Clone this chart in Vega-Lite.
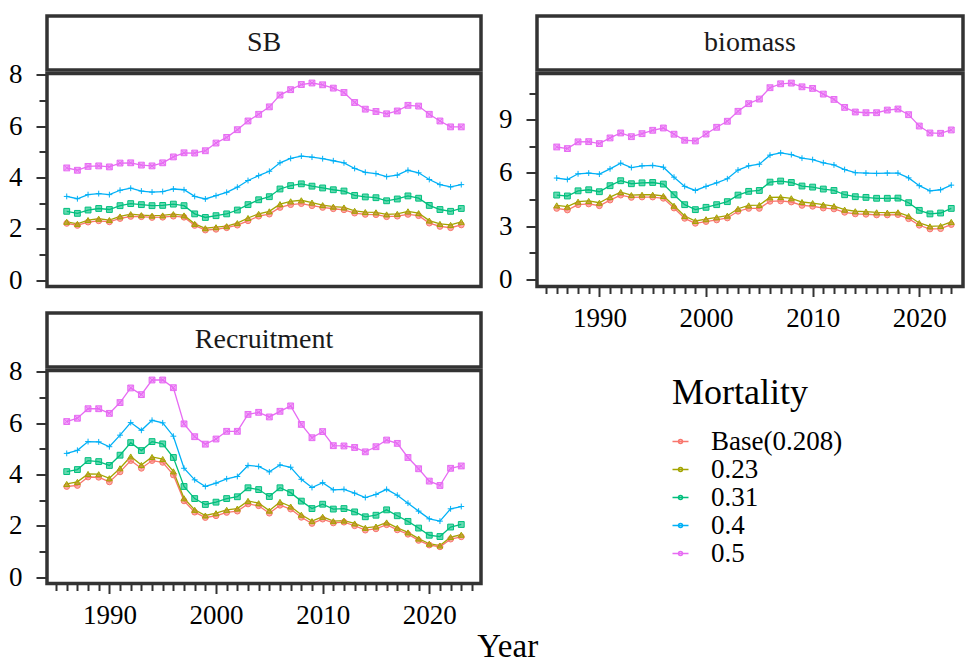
{
"$schema":"https://vega.github.io/schema/vega-lite/v6.json",
"background":"white",
"padding":{"left":6,"top":14,"right":0,"bottom":0},
"title":{"text":"Year","orient":"bottom","anchor":"middle","font":"Liberation Serif","fontSize":33,"fontWeight":"normal","color":"#000000","offset":1,"dx":22},
"datasets":{
"SB":[
{"Year":1986,"Mortality":"Base(0.208)","Value":2.21},{"Year":1987,"Mortality":"Base(0.208)","Value":2.13},{"Year":1988,"Mortality":"Base(0.208)","Value":2.26},{"Year":1989,"Mortality":"Base(0.208)","Value":2.31},{"Year":1990,"Mortality":"Base(0.208)","Value":2.27},{"Year":1991,"Mortality":"Base(0.208)","Value":2.40},{"Year":1992,"Mortality":"Base(0.208)","Value":2.48},{"Year":1993,"Mortality":"Base(0.208)","Value":2.47},{"Year":1994,"Mortality":"Base(0.208)","Value":2.44},{"Year":1995,"Mortality":"Base(0.208)","Value":2.45},{"Year":1996,"Mortality":"Base(0.208)","Value":2.49},{"Year":1997,"Mortality":"Base(0.208)","Value":2.45},{"Year":1998,"Mortality":"Base(0.208)","Value":2.13},{"Year":1999,"Mortality":"Base(0.208)","Value":1.95},{"Year":2000,"Mortality":"Base(0.208)","Value":1.98},{"Year":2001,"Mortality":"Base(0.208)","Value":2.04},{"Year":2002,"Mortality":"Base(0.208)","Value":2.14},{"Year":2003,"Mortality":"Base(0.208)","Value":2.31},{"Year":2004,"Mortality":"Base(0.208)","Value":2.49},{"Year":2005,"Mortality":"Base(0.208)","Value":2.57},{"Year":2006,"Mortality":"Base(0.208)","Value":2.83},{"Year":2007,"Mortality":"Base(0.208)","Value":2.94},{"Year":2008,"Mortality":"Base(0.208)","Value":2.98},{"Year":2009,"Mortality":"Base(0.208)","Value":2.90},{"Year":2010,"Mortality":"Base(0.208)","Value":2.83},{"Year":2011,"Mortality":"Base(0.208)","Value":2.78},{"Year":2012,"Mortality":"Base(0.208)","Value":2.74},{"Year":2013,"Mortality":"Base(0.208)","Value":2.61},{"Year":2014,"Mortality":"Base(0.208)","Value":2.56},{"Year":2015,"Mortality":"Base(0.208)","Value":2.55},{"Year":2016,"Mortality":"Base(0.208)","Value":2.47},{"Year":2017,"Mortality":"Base(0.208)","Value":2.49},{"Year":2018,"Mortality":"Base(0.208)","Value":2.56},{"Year":2019,"Mortality":"Base(0.208)","Value":2.51},{"Year":2020,"Mortality":"Base(0.208)","Value":2.22},{"Year":2021,"Mortality":"Base(0.208)","Value":2.09},{"Year":2022,"Mortality":"Base(0.208)","Value":2.04},{"Year":2023,"Mortality":"Base(0.208)","Value":2.15},
{"Year":1986,"Mortality":"0.23","Value":2.27},{"Year":1987,"Mortality":"0.23","Value":2.19},{"Year":1988,"Mortality":"0.23","Value":2.34},{"Year":1989,"Mortality":"0.23","Value":2.39},{"Year":1990,"Mortality":"0.23","Value":2.34},{"Year":1991,"Mortality":"0.23","Value":2.48},{"Year":1992,"Mortality":"0.23","Value":2.57},{"Year":1993,"Mortality":"0.23","Value":2.53},{"Year":1994,"Mortality":"0.23","Value":2.51},{"Year":1995,"Mortality":"0.23","Value":2.52},{"Year":1996,"Mortality":"0.23","Value":2.57},{"Year":1997,"Mortality":"0.23","Value":2.52},{"Year":1998,"Mortality":"0.23","Value":2.19},{"Year":1999,"Mortality":"0.23","Value":2.02},{"Year":2000,"Mortality":"0.23","Value":2.06},{"Year":2001,"Mortality":"0.23","Value":2.10},{"Year":2002,"Mortality":"0.23","Value":2.22},{"Year":2003,"Mortality":"0.23","Value":2.42},{"Year":2004,"Mortality":"0.23","Value":2.58},{"Year":2005,"Mortality":"0.23","Value":2.68},{"Year":2006,"Mortality":"0.23","Value":2.96},{"Year":2007,"Mortality":"0.23","Value":3.07},{"Year":2008,"Mortality":"0.23","Value":3.11},{"Year":2009,"Mortality":"0.23","Value":3.02},{"Year":2010,"Mortality":"0.23","Value":2.92},{"Year":2011,"Mortality":"0.23","Value":2.86},{"Year":2012,"Mortality":"0.23","Value":2.83},{"Year":2013,"Mortality":"0.23","Value":2.70},{"Year":2014,"Mortality":"0.23","Value":2.65},{"Year":2015,"Mortality":"0.23","Value":2.64},{"Year":2016,"Mortality":"0.23","Value":2.56},{"Year":2017,"Mortality":"0.23","Value":2.58},{"Year":2018,"Mortality":"0.23","Value":2.68},{"Year":2019,"Mortality":"0.23","Value":2.61},{"Year":2020,"Mortality":"0.23","Value":2.32},{"Year":2021,"Mortality":"0.23","Value":2.19},{"Year":2022,"Mortality":"0.23","Value":2.15},{"Year":2023,"Mortality":"0.23","Value":2.27},
{"Year":1986,"Mortality":"0.31","Value":2.68},{"Year":1987,"Mortality":"0.31","Value":2.60},{"Year":1988,"Mortality":"0.31","Value":2.73},{"Year":1989,"Mortality":"0.31","Value":2.79},{"Year":1990,"Mortality":"0.31","Value":2.75},{"Year":1991,"Mortality":"0.31","Value":2.90},{"Year":1992,"Mortality":"0.31","Value":2.98},{"Year":1993,"Mortality":"0.31","Value":2.94},{"Year":1994,"Mortality":"0.31","Value":2.90},{"Year":1995,"Mortality":"0.31","Value":2.91},{"Year":1996,"Mortality":"0.31","Value":2.96},{"Year":1997,"Mortality":"0.31","Value":2.90},{"Year":1998,"Mortality":"0.31","Value":2.58},{"Year":1999,"Mortality":"0.31","Value":2.44},{"Year":2000,"Mortality":"0.31","Value":2.51},{"Year":2001,"Mortality":"0.31","Value":2.58},{"Year":2002,"Mortality":"0.31","Value":2.73},{"Year":2003,"Mortality":"0.31","Value":2.94},{"Year":2004,"Mortality":"0.31","Value":3.13},{"Year":2005,"Mortality":"0.31","Value":3.25},{"Year":2006,"Mortality":"0.31","Value":3.55},{"Year":2007,"Mortality":"0.31","Value":3.68},{"Year":2008,"Mortality":"0.31","Value":3.75},{"Year":2009,"Mortality":"0.31","Value":3.66},{"Year":2010,"Mortality":"0.31","Value":3.59},{"Year":2011,"Mortality":"0.31","Value":3.52},{"Year":2012,"Mortality":"0.31","Value":3.47},{"Year":2013,"Mortality":"0.31","Value":3.30},{"Year":2014,"Mortality":"0.31","Value":3.24},{"Year":2015,"Mortality":"0.31","Value":3.21},{"Year":2016,"Mortality":"0.31","Value":3.09},{"Year":2017,"Mortality":"0.31","Value":3.16},{"Year":2018,"Mortality":"0.31","Value":3.28},{"Year":2019,"Mortality":"0.31","Value":3.19},{"Year":2020,"Mortality":"0.31","Value":2.91},{"Year":2021,"Mortality":"0.31","Value":2.75},{"Year":2022,"Mortality":"0.31","Value":2.68},{"Year":2023,"Mortality":"0.31","Value":2.79},
{"Year":1986,"Mortality":"0.4","Value":3.26},{"Year":1987,"Mortality":"0.4","Value":3.17},{"Year":1988,"Mortality":"0.4","Value":3.33},{"Year":1989,"Mortality":"0.4","Value":3.37},{"Year":1990,"Mortality":"0.4","Value":3.33},{"Year":1991,"Mortality":"0.4","Value":3.50},{"Year":1992,"Mortality":"0.4","Value":3.58},{"Year":1993,"Mortality":"0.4","Value":3.47},{"Year":1994,"Mortality":"0.4","Value":3.43},{"Year":1995,"Mortality":"0.4","Value":3.45},{"Year":1996,"Mortality":"0.4","Value":3.55},{"Year":1997,"Mortality":"0.4","Value":3.52},{"Year":1998,"Mortality":"0.4","Value":3.26},{"Year":1999,"Mortality":"0.4","Value":3.16},{"Year":2000,"Mortality":"0.4","Value":3.29},{"Year":2001,"Mortality":"0.4","Value":3.42},{"Year":2002,"Mortality":"0.4","Value":3.62},{"Year":2003,"Mortality":"0.4","Value":3.88},{"Year":2004,"Mortality":"0.4","Value":4.07},{"Year":2005,"Mortality":"0.4","Value":4.24},{"Year":2006,"Mortality":"0.4","Value":4.57},{"Year":2007,"Mortality":"0.4","Value":4.74},{"Year":2008,"Mortality":"0.4","Value":4.83},{"Year":2009,"Mortality":"0.4","Value":4.79},{"Year":2010,"Mortality":"0.4","Value":4.73},{"Year":2011,"Mortality":"0.4","Value":4.65},{"Year":2012,"Mortality":"0.4","Value":4.57},{"Year":2013,"Mortality":"0.4","Value":4.35},{"Year":2014,"Mortality":"0.4","Value":4.20},{"Year":2015,"Mortality":"0.4","Value":4.15},{"Year":2016,"Mortality":"0.4","Value":4.03},{"Year":2017,"Mortality":"0.4","Value":4.09},{"Year":2018,"Mortality":"0.4","Value":4.28},{"Year":2019,"Mortality":"0.4","Value":4.18},{"Year":2020,"Mortality":"0.4","Value":3.92},{"Year":2021,"Mortality":"0.4","Value":3.72},{"Year":2022,"Mortality":"0.4","Value":3.63},{"Year":2023,"Mortality":"0.4","Value":3.72},
{"Year":1986,"Mortality":"0.5","Value":4.37},{"Year":1987,"Mortality":"0.5","Value":4.28},{"Year":1988,"Mortality":"0.5","Value":4.43},{"Year":1989,"Mortality":"0.5","Value":4.45},{"Year":1990,"Mortality":"0.5","Value":4.41},{"Year":1991,"Mortality":"0.5","Value":4.56},{"Year":1992,"Mortality":"0.5","Value":4.57},{"Year":1993,"Mortality":"0.5","Value":4.48},{"Year":1994,"Mortality":"0.5","Value":4.45},{"Year":1995,"Mortality":"0.5","Value":4.57},{"Year":1996,"Mortality":"0.5","Value":4.80},{"Year":1997,"Mortality":"0.5","Value":4.96},{"Year":1998,"Mortality":"0.5","Value":4.95},{"Year":1999,"Mortality":"0.5","Value":5.04},{"Year":2000,"Mortality":"0.5","Value":5.34},{"Year":2001,"Mortality":"0.5","Value":5.56},{"Year":2002,"Mortality":"0.5","Value":5.86},{"Year":2003,"Mortality":"0.5","Value":6.20},{"Year":2004,"Mortality":"0.5","Value":6.46},{"Year":2005,"Mortality":"0.5","Value":6.75},{"Year":2006,"Mortality":"0.5","Value":7.21},{"Year":2007,"Mortality":"0.5","Value":7.42},{"Year":2008,"Mortality":"0.5","Value":7.62},{"Year":2009,"Mortality":"0.5","Value":7.68},{"Year":2010,"Mortality":"0.5","Value":7.61},{"Year":2011,"Mortality":"0.5","Value":7.48},{"Year":2012,"Mortality":"0.5","Value":7.31},{"Year":2013,"Mortality":"0.5","Value":6.92},{"Year":2014,"Mortality":"0.5","Value":6.66},{"Year":2015,"Mortality":"0.5","Value":6.57},{"Year":2016,"Mortality":"0.5","Value":6.48},{"Year":2017,"Mortality":"0.5","Value":6.59},{"Year":2018,"Mortality":"0.5","Value":6.81},{"Year":2019,"Mortality":"0.5","Value":6.78},{"Year":2020,"Mortality":"0.5","Value":6.46},{"Year":2021,"Mortality":"0.5","Value":6.20},{"Year":2022,"Mortality":"0.5","Value":5.97},{"Year":2023,"Mortality":"0.5","Value":5.97}
],
"biomass":[
{"Year":1986,"Mortality":"Base(0.208)","Value":4.00},{"Year":1987,"Mortality":"Base(0.208)","Value":3.91},{"Year":1988,"Mortality":"Base(0.208)","Value":4.21},{"Year":1989,"Mortality":"Base(0.208)","Value":4.25},{"Year":1990,"Mortality":"Base(0.208)","Value":4.15},{"Year":1991,"Mortality":"Base(0.208)","Value":4.47},{"Year":1992,"Mortality":"Base(0.208)","Value":4.75},{"Year":1993,"Mortality":"Base(0.208)","Value":4.62},{"Year":1994,"Mortality":"Base(0.208)","Value":4.64},{"Year":1995,"Mortality":"Base(0.208)","Value":4.64},{"Year":1996,"Mortality":"Base(0.208)","Value":4.57},{"Year":1997,"Mortality":"Base(0.208)","Value":4.02},{"Year":1998,"Mortality":"Base(0.208)","Value":3.44},{"Year":1999,"Mortality":"Base(0.208)","Value":3.16},{"Year":2000,"Mortality":"Base(0.208)","Value":3.26},{"Year":2001,"Mortality":"Base(0.208)","Value":3.35},{"Year":2002,"Mortality":"Base(0.208)","Value":3.46},{"Year":2003,"Mortality":"Base(0.208)","Value":3.84},{"Year":2004,"Mortality":"Base(0.208)","Value":4.00},{"Year":2005,"Mortality":"Base(0.208)","Value":4.00},{"Year":2006,"Mortality":"Base(0.208)","Value":4.40},{"Year":2007,"Mortality":"Base(0.208)","Value":4.42},{"Year":2008,"Mortality":"Base(0.208)","Value":4.36},{"Year":2009,"Mortality":"Base(0.208)","Value":4.17},{"Year":2010,"Mortality":"Base(0.208)","Value":4.12},{"Year":2011,"Mortality":"Base(0.208)","Value":4.02},{"Year":2012,"Mortality":"Base(0.208)","Value":3.97},{"Year":2013,"Mortality":"Base(0.208)","Value":3.78},{"Year":2014,"Mortality":"Base(0.208)","Value":3.69},{"Year":2015,"Mortality":"Base(0.208)","Value":3.67},{"Year":2016,"Mortality":"Base(0.208)","Value":3.63},{"Year":2017,"Mortality":"Base(0.208)","Value":3.63},{"Year":2018,"Mortality":"Base(0.208)","Value":3.65},{"Year":2019,"Mortality":"Base(0.208)","Value":3.42},{"Year":2020,"Mortality":"Base(0.208)","Value":3.05},{"Year":2021,"Mortality":"Base(0.208)","Value":2.84},{"Year":2022,"Mortality":"Base(0.208)","Value":2.86},{"Year":2023,"Mortality":"Base(0.208)","Value":3.09},
{"Year":1986,"Mortality":"0.23","Value":4.17},{"Year":1987,"Mortality":"0.23","Value":4.10},{"Year":1988,"Mortality":"0.23","Value":4.38},{"Year":1989,"Mortality":"0.23","Value":4.42},{"Year":1990,"Mortality":"0.23","Value":4.32},{"Year":1991,"Mortality":"0.23","Value":4.64},{"Year":1992,"Mortality":"0.23","Value":4.92},{"Year":1993,"Mortality":"0.23","Value":4.75},{"Year":1994,"Mortality":"0.23","Value":4.77},{"Year":1995,"Mortality":"0.23","Value":4.77},{"Year":1996,"Mortality":"0.23","Value":4.70},{"Year":1997,"Mortality":"0.23","Value":4.15},{"Year":1998,"Mortality":"0.23","Value":3.57},{"Year":1999,"Mortality":"0.23","Value":3.29},{"Year":2000,"Mortality":"0.23","Value":3.39},{"Year":2001,"Mortality":"0.23","Value":3.50},{"Year":2002,"Mortality":"0.23","Value":3.59},{"Year":2003,"Mortality":"0.23","Value":3.98},{"Year":2004,"Mortality":"0.23","Value":4.17},{"Year":2005,"Mortality":"0.23","Value":4.19},{"Year":2006,"Mortality":"0.23","Value":4.62},{"Year":2007,"Mortality":"0.23","Value":4.64},{"Year":2008,"Mortality":"0.23","Value":4.57},{"Year":2009,"Mortality":"0.23","Value":4.36},{"Year":2010,"Mortality":"0.23","Value":4.30},{"Year":2011,"Mortality":"0.23","Value":4.21},{"Year":2012,"Mortality":"0.23","Value":4.13},{"Year":2013,"Mortality":"0.23","Value":3.93},{"Year":2014,"Mortality":"0.23","Value":3.84},{"Year":2015,"Mortality":"0.23","Value":3.82},{"Year":2016,"Mortality":"0.23","Value":3.78},{"Year":2017,"Mortality":"0.23","Value":3.76},{"Year":2018,"Mortality":"0.23","Value":3.78},{"Year":2019,"Mortality":"0.23","Value":3.57},{"Year":2020,"Mortality":"0.23","Value":3.18},{"Year":2021,"Mortality":"0.23","Value":2.99},{"Year":2022,"Mortality":"0.23","Value":3.01},{"Year":2023,"Mortality":"0.23","Value":3.24},
{"Year":1986,"Mortality":"0.31","Value":4.75},{"Year":1987,"Mortality":"0.31","Value":4.70},{"Year":1988,"Mortality":"0.31","Value":4.99},{"Year":1989,"Mortality":"0.31","Value":5.05},{"Year":1990,"Mortality":"0.31","Value":4.94},{"Year":1991,"Mortality":"0.31","Value":5.28},{"Year":1992,"Mortality":"0.31","Value":5.56},{"Year":1993,"Mortality":"0.31","Value":5.39},{"Year":1994,"Mortality":"0.31","Value":5.44},{"Year":1995,"Mortality":"0.31","Value":5.46},{"Year":1996,"Mortality":"0.31","Value":5.37},{"Year":1997,"Mortality":"0.31","Value":4.77},{"Year":1998,"Mortality":"0.31","Value":4.21},{"Year":1999,"Mortality":"0.31","Value":3.93},{"Year":2000,"Mortality":"0.31","Value":4.06},{"Year":2001,"Mortality":"0.31","Value":4.21},{"Year":2002,"Mortality":"0.31","Value":4.38},{"Year":2003,"Mortality":"0.31","Value":4.75},{"Year":2004,"Mortality":"0.31","Value":4.96},{"Year":2005,"Mortality":"0.31","Value":5.01},{"Year":2006,"Mortality":"0.31","Value":5.48},{"Year":2007,"Mortality":"0.31","Value":5.54},{"Year":2008,"Mortality":"0.31","Value":5.46},{"Year":2009,"Mortality":"0.31","Value":5.26},{"Year":2010,"Mortality":"0.31","Value":5.20},{"Year":2011,"Mortality":"0.31","Value":5.09},{"Year":2012,"Mortality":"0.31","Value":5.01},{"Year":2013,"Mortality":"0.31","Value":4.77},{"Year":2014,"Mortality":"0.31","Value":4.66},{"Year":2015,"Mortality":"0.31","Value":4.62},{"Year":2016,"Mortality":"0.31","Value":4.57},{"Year":2017,"Mortality":"0.31","Value":4.57},{"Year":2018,"Mortality":"0.31","Value":4.58},{"Year":2019,"Mortality":"0.31","Value":4.32},{"Year":2020,"Mortality":"0.31","Value":3.89},{"Year":2021,"Mortality":"0.31","Value":3.69},{"Year":2022,"Mortality":"0.31","Value":3.74},{"Year":2023,"Mortality":"0.31","Value":4.00},
{"Year":1986,"Mortality":"0.4","Value":5.71},{"Year":1987,"Mortality":"0.4","Value":5.63},{"Year":1988,"Mortality":"0.4","Value":5.95},{"Year":1989,"Mortality":"0.4","Value":5.99},{"Year":1990,"Mortality":"0.4","Value":5.93},{"Year":1991,"Mortality":"0.4","Value":6.23},{"Year":1992,"Mortality":"0.4","Value":6.55},{"Year":1993,"Mortality":"0.4","Value":6.30},{"Year":1994,"Mortality":"0.4","Value":6.40},{"Year":1995,"Mortality":"0.4","Value":6.42},{"Year":1996,"Mortality":"0.4","Value":6.32},{"Year":1997,"Mortality":"0.4","Value":5.76},{"Year":1998,"Mortality":"0.4","Value":5.24},{"Year":1999,"Mortality":"0.4","Value":5.01},{"Year":2000,"Mortality":"0.4","Value":5.24},{"Year":2001,"Mortality":"0.4","Value":5.44},{"Year":2002,"Mortality":"0.4","Value":5.67},{"Year":2003,"Mortality":"0.4","Value":6.16},{"Year":2004,"Mortality":"0.4","Value":6.40},{"Year":2005,"Mortality":"0.4","Value":6.49},{"Year":2006,"Mortality":"0.4","Value":7.00},{"Year":2007,"Mortality":"0.4","Value":7.13},{"Year":2008,"Mortality":"0.4","Value":7.03},{"Year":2009,"Mortality":"0.4","Value":6.83},{"Year":2010,"Mortality":"0.4","Value":6.75},{"Year":2011,"Mortality":"0.4","Value":6.57},{"Year":2012,"Mortality":"0.4","Value":6.45},{"Year":2013,"Mortality":"0.4","Value":6.19},{"Year":2014,"Mortality":"0.4","Value":6.01},{"Year":2015,"Mortality":"0.4","Value":5.99},{"Year":2016,"Mortality":"0.4","Value":5.97},{"Year":2017,"Mortality":"0.4","Value":5.99},{"Year":2018,"Mortality":"0.4","Value":5.99},{"Year":2019,"Mortality":"0.4","Value":5.72},{"Year":2020,"Mortality":"0.4","Value":5.28},{"Year":2021,"Mortality":"0.4","Value":4.99},{"Year":2022,"Mortality":"0.4","Value":5.05},{"Year":2023,"Mortality":"0.4","Value":5.31},
{"Year":1986,"Mortality":"0.5","Value":7.46},{"Year":1987,"Mortality":"0.5","Value":7.37},{"Year":1988,"Mortality":"0.5","Value":7.75},{"Year":1989,"Mortality":"0.5","Value":7.76},{"Year":1990,"Mortality":"0.5","Value":7.65},{"Year":1991,"Mortality":"0.5","Value":7.97},{"Year":1992,"Mortality":"0.5","Value":8.25},{"Year":1993,"Mortality":"0.5","Value":8.04},{"Year":1994,"Mortality":"0.5","Value":8.21},{"Year":1995,"Mortality":"0.5","Value":8.40},{"Year":1996,"Mortality":"0.5","Value":8.53},{"Year":1997,"Mortality":"0.5","Value":8.18},{"Year":1998,"Mortality":"0.5","Value":7.84},{"Year":1999,"Mortality":"0.5","Value":7.80},{"Year":2000,"Mortality":"0.5","Value":8.19},{"Year":2001,"Mortality":"0.5","Value":8.57},{"Year":2002,"Mortality":"0.5","Value":8.91},{"Year":2003,"Mortality":"0.5","Value":9.47},{"Year":2004,"Mortality":"0.5","Value":9.90},{"Year":2005,"Mortality":"0.5","Value":10.16},{"Year":2006,"Mortality":"0.5","Value":10.80},{"Year":2007,"Mortality":"0.5","Value":11.02},{"Year":2008,"Mortality":"0.5","Value":11.06},{"Year":2009,"Mortality":"0.5","Value":10.85},{"Year":2010,"Mortality":"0.5","Value":10.76},{"Year":2011,"Mortality":"0.5","Value":10.44},{"Year":2012,"Mortality":"0.5","Value":10.14},{"Year":2013,"Mortality":"0.5","Value":9.69},{"Year":2014,"Mortality":"0.5","Value":9.43},{"Year":2015,"Mortality":"0.5","Value":9.39},{"Year":2016,"Mortality":"0.5","Value":9.39},{"Year":2017,"Mortality":"0.5","Value":9.54},{"Year":2018,"Mortality":"0.5","Value":9.60},{"Year":2019,"Mortality":"0.5","Value":9.28},{"Year":2020,"Mortality":"0.5","Value":8.64},{"Year":2021,"Mortality":"0.5","Value":8.25},{"Year":2022,"Mortality":"0.5","Value":8.23},{"Year":2023,"Mortality":"0.5","Value":8.42}
],
"Recruitment":[
{"Year":1986,"Mortality":"Base(0.208)","Value":3.53},{"Year":1987,"Mortality":"Base(0.208)","Value":3.57},{"Year":1988,"Mortality":"Base(0.208)","Value":3.90},{"Year":1989,"Mortality":"Base(0.208)","Value":3.89},{"Year":1990,"Mortality":"Base(0.208)","Value":3.71},{"Year":1991,"Mortality":"Base(0.208)","Value":4.10},{"Year":1992,"Mortality":"Base(0.208)","Value":4.54},{"Year":1993,"Mortality":"Base(0.208)","Value":4.24},{"Year":1994,"Mortality":"Base(0.208)","Value":4.54},{"Year":1995,"Mortality":"Base(0.208)","Value":4.47},{"Year":1996,"Mortality":"Base(0.208)","Value":3.98},{"Year":1997,"Mortality":"Base(0.208)","Value":2.97},{"Year":1998,"Mortality":"Base(0.208)","Value":2.53},{"Year":1999,"Mortality":"Base(0.208)","Value":2.32},{"Year":2000,"Mortality":"Base(0.208)","Value":2.39},{"Year":2001,"Mortality":"Base(0.208)","Value":2.52},{"Year":2002,"Mortality":"Base(0.208)","Value":2.57},{"Year":2003,"Mortality":"Base(0.208)","Value":2.85},{"Year":2004,"Mortality":"Base(0.208)","Value":2.78},{"Year":2005,"Mortality":"Base(0.208)","Value":2.49},{"Year":2006,"Mortality":"Base(0.208)","Value":2.80},{"Year":2007,"Mortality":"Base(0.208)","Value":2.65},{"Year":2008,"Mortality":"Base(0.208)","Value":2.33},{"Year":2009,"Mortality":"Base(0.208)","Value":2.09},{"Year":2010,"Mortality":"Base(0.208)","Value":2.26},{"Year":2011,"Mortality":"Base(0.208)","Value":2.11},{"Year":2012,"Mortality":"Base(0.208)","Value":2.14},{"Year":2013,"Mortality":"Base(0.208)","Value":2.00},{"Year":2014,"Mortality":"Base(0.208)","Value":1.83},{"Year":2015,"Mortality":"Base(0.208)","Value":1.88},{"Year":2016,"Mortality":"Base(0.208)","Value":2.04},{"Year":2017,"Mortality":"Base(0.208)","Value":1.84},{"Year":2018,"Mortality":"Base(0.208)","Value":1.67},{"Year":2019,"Mortality":"Base(0.208)","Value":1.43},{"Year":2020,"Mortality":"Base(0.208)","Value":1.25},{"Year":2021,"Mortality":"Base(0.208)","Value":1.18},{"Year":2022,"Mortality":"Base(0.208)","Value":1.48},{"Year":2023,"Mortality":"Base(0.208)","Value":1.57},
{"Year":1986,"Mortality":"0.23","Value":3.63},{"Year":1987,"Mortality":"0.23","Value":3.71},{"Year":1988,"Mortality":"0.23","Value":4.02},{"Year":1989,"Mortality":"0.23","Value":4.01},{"Year":1990,"Mortality":"0.23","Value":3.85},{"Year":1991,"Mortality":"0.23","Value":4.24},{"Year":1992,"Mortality":"0.23","Value":4.70},{"Year":1993,"Mortality":"0.23","Value":4.37},{"Year":1994,"Mortality":"0.23","Value":4.68},{"Year":1995,"Mortality":"0.23","Value":4.60},{"Year":1996,"Mortality":"0.23","Value":4.12},{"Year":1997,"Mortality":"0.23","Value":3.07},{"Year":1998,"Mortality":"0.23","Value":2.62},{"Year":1999,"Mortality":"0.23","Value":2.40},{"Year":2000,"Mortality":"0.23","Value":2.49},{"Year":2001,"Mortality":"0.23","Value":2.62},{"Year":2002,"Mortality":"0.23","Value":2.67},{"Year":2003,"Mortality":"0.23","Value":2.97},{"Year":2004,"Mortality":"0.23","Value":2.88},{"Year":2005,"Mortality":"0.23","Value":2.59},{"Year":2006,"Mortality":"0.23","Value":2.93},{"Year":2007,"Mortality":"0.23","Value":2.75},{"Year":2008,"Mortality":"0.23","Value":2.43},{"Year":2009,"Mortality":"0.23","Value":2.18},{"Year":2010,"Mortality":"0.23","Value":2.35},{"Year":2011,"Mortality":"0.23","Value":2.18},{"Year":2012,"Mortality":"0.23","Value":2.20},{"Year":2013,"Mortality":"0.23","Value":2.09},{"Year":2014,"Mortality":"0.23","Value":1.92},{"Year":2015,"Mortality":"0.23","Value":1.97},{"Year":2016,"Mortality":"0.23","Value":2.13},{"Year":2017,"Mortality":"0.23","Value":1.92},{"Year":2018,"Mortality":"0.23","Value":1.74},{"Year":2019,"Mortality":"0.23","Value":1.50},{"Year":2020,"Mortality":"0.23","Value":1.30},{"Year":2021,"Mortality":"0.23","Value":1.23},{"Year":2022,"Mortality":"0.23","Value":1.56},{"Year":2023,"Mortality":"0.23","Value":1.65},
{"Year":1986,"Mortality":"0.31","Value":4.11},{"Year":1987,"Mortality":"0.31","Value":4.19},{"Year":1988,"Mortality":"0.31","Value":4.54},{"Year":1989,"Mortality":"0.31","Value":4.50},{"Year":1990,"Mortality":"0.31","Value":4.35},{"Year":1991,"Mortality":"0.31","Value":4.75},{"Year":1992,"Mortality":"0.31","Value":5.24},{"Year":1993,"Mortality":"0.31","Value":4.93},{"Year":1994,"Mortality":"0.31","Value":5.28},{"Year":1995,"Mortality":"0.31","Value":5.19},{"Year":1996,"Mortality":"0.31","Value":4.66},{"Year":1997,"Mortality":"0.31","Value":3.53},{"Year":1998,"Mortality":"0.31","Value":3.06},{"Year":1999,"Mortality":"0.31","Value":2.83},{"Year":2000,"Mortality":"0.31","Value":2.92},{"Year":2001,"Mortality":"0.31","Value":3.06},{"Year":2002,"Mortality":"0.31","Value":3.13},{"Year":2003,"Mortality":"0.31","Value":3.48},{"Year":2004,"Mortality":"0.31","Value":3.41},{"Year":2005,"Mortality":"0.31","Value":3.14},{"Year":2006,"Mortality":"0.31","Value":3.48},{"Year":2007,"Mortality":"0.31","Value":3.29},{"Year":2008,"Mortality":"0.31","Value":2.96},{"Year":2009,"Mortality":"0.31","Value":2.67},{"Year":2010,"Mortality":"0.31","Value":2.84},{"Year":2011,"Mortality":"0.31","Value":2.65},{"Year":2012,"Mortality":"0.31","Value":2.67},{"Year":2013,"Mortality":"0.31","Value":2.54},{"Year":2014,"Mortality":"0.31","Value":2.35},{"Year":2015,"Mortality":"0.31","Value":2.41},{"Year":2016,"Mortality":"0.31","Value":2.62},{"Year":2017,"Mortality":"0.31","Value":2.39},{"Year":2018,"Mortality":"0.31","Value":2.17},{"Year":2019,"Mortality":"0.31","Value":1.91},{"Year":2020,"Mortality":"0.31","Value":1.63},{"Year":2021,"Mortality":"0.31","Value":1.58},{"Year":2022,"Mortality":"0.31","Value":1.95},{"Year":2023,"Mortality":"0.31","Value":2.05},
{"Year":1986,"Mortality":"0.4","Value":4.82},{"Year":1987,"Mortality":"0.4","Value":4.94},{"Year":1988,"Mortality":"0.4","Value":5.28},{"Year":1989,"Mortality":"0.4","Value":5.27},{"Year":1990,"Mortality":"0.4","Value":5.08},{"Year":1991,"Mortality":"0.4","Value":5.53},{"Year":1992,"Mortality":"0.4","Value":6.02},{"Year":1993,"Mortality":"0.4","Value":5.72},{"Year":1994,"Mortality":"0.4","Value":6.11},{"Year":1995,"Mortality":"0.4","Value":6.01},{"Year":1996,"Mortality":"0.4","Value":5.49},{"Year":1997,"Mortality":"0.4","Value":4.24},{"Year":1998,"Mortality":"0.4","Value":3.79},{"Year":1999,"Mortality":"0.4","Value":3.53},{"Year":2000,"Mortality":"0.4","Value":3.66},{"Year":2001,"Mortality":"0.4","Value":3.83},{"Year":2002,"Mortality":"0.4","Value":3.92},{"Year":2003,"Mortality":"0.4","Value":4.35},{"Year":2004,"Mortality":"0.4","Value":4.31},{"Year":2005,"Mortality":"0.4","Value":4.10},{"Year":2006,"Mortality":"0.4","Value":4.37},{"Year":2007,"Mortality":"0.4","Value":4.28},{"Year":2008,"Mortality":"0.4","Value":3.81},{"Year":2009,"Mortality":"0.4","Value":3.49},{"Year":2010,"Mortality":"0.4","Value":3.68},{"Year":2011,"Mortality":"0.4","Value":3.40},{"Year":2012,"Mortality":"0.4","Value":3.42},{"Year":2013,"Mortality":"0.4","Value":3.27},{"Year":2014,"Mortality":"0.4","Value":3.10},{"Year":2015,"Mortality":"0.4","Value":3.22},{"Year":2016,"Mortality":"0.4","Value":3.42},{"Year":2017,"Mortality":"0.4","Value":3.19},{"Year":2018,"Mortality":"0.4","Value":2.88},{"Year":2019,"Mortality":"0.4","Value":2.57},{"Year":2020,"Mortality":"0.4","Value":2.27},{"Year":2021,"Mortality":"0.4","Value":2.18},{"Year":2022,"Mortality":"0.4","Value":2.66},{"Year":2023,"Mortality":"0.4","Value":2.75},
{"Year":1986,"Mortality":"0.5","Value":6.06},{"Year":1987,"Mortality":"0.5","Value":6.19},{"Year":1988,"Mortality":"0.5","Value":6.56},{"Year":1989,"Mortality":"0.5","Value":6.56},{"Year":1990,"Mortality":"0.5","Value":6.38},{"Year":1991,"Mortality":"0.5","Value":6.80},{"Year":1992,"Mortality":"0.5","Value":7.37},{"Year":1993,"Mortality":"0.5","Value":7.11},{"Year":1994,"Mortality":"0.5","Value":7.68},{"Year":1995,"Mortality":"0.5","Value":7.68},{"Year":1996,"Mortality":"0.5","Value":7.38},{"Year":1997,"Mortality":"0.5","Value":5.97},{"Year":1998,"Mortality":"0.5","Value":5.47},{"Year":1999,"Mortality":"0.5","Value":5.18},{"Year":2000,"Mortality":"0.5","Value":5.38},{"Year":2001,"Mortality":"0.5","Value":5.68},{"Year":2002,"Mortality":"0.5","Value":5.68},{"Year":2003,"Mortality":"0.5","Value":6.34},{"Year":2004,"Mortality":"0.5","Value":6.42},{"Year":2005,"Mortality":"0.5","Value":6.24},{"Year":2006,"Mortality":"0.5","Value":6.46},{"Year":2007,"Mortality":"0.5","Value":6.67},{"Year":2008,"Mortality":"0.5","Value":5.95},{"Year":2009,"Mortality":"0.5","Value":5.43},{"Year":2010,"Mortality":"0.5","Value":5.67},{"Year":2011,"Mortality":"0.5","Value":5.12},{"Year":2012,"Mortality":"0.5","Value":5.11},{"Year":2013,"Mortality":"0.5","Value":5.05},{"Year":2014,"Mortality":"0.5","Value":4.88},{"Year":2015,"Mortality":"0.5","Value":5.08},{"Year":2016,"Mortality":"0.5","Value":5.34},{"Year":2017,"Mortality":"0.5","Value":5.21},{"Year":2018,"Mortality":"0.5","Value":4.66},{"Year":2019,"Mortality":"0.5","Value":4.22},{"Year":2020,"Mortality":"0.5","Value":3.74},{"Year":2021,"Mortality":"0.5","Value":3.57},{"Year":2022,"Mortality":"0.5","Value":4.24},{"Year":2023,"Mortality":"0.5","Value":4.33}
]
},
"spacing":13,
"resolve":{"scale":{"color":"independent","fill":"independent","shape":"independent","stroke":"independent"},"legend":{"color":"independent","fill":"independent","shape":"independent","stroke":"independent"}},
"hconcat":[
 {"vconcat":[
   {"vconcat":[
     {"width":434,"height":54,"data":{"values":[{"label":"SB"}]},"mark":{"type":"text","font":"Liberation Serif","fontSize":28,"color":"#1a1a1a"},
      "encoding":{"text":{"field":"label","type":"nominal"},"x":{"datum":0.5,"type":"quantitative","scale":{"domain":[0,1]},"axis":null},"y":{"datum":0.5,"type":"quantitative","scale":{"domain":[0,1]},"axis":null}}},
     {"width":434,"height":213,"data":{"name":"SB"},
      "encoding":{
       "x":{"field":"Year","type":"quantitative","scale":{"domain":[1984.15,2024.85],"nice":false,"zero":false},"axis":null},
       "y":{"field":"Value","type":"quantitative","scale":{"domain":[-0.25,8.05],"nice":false,"zero":false},"axis":{"title":null,"labelFont":"serif","labelFontSize":27,"labelColor":"#000000","values":[0,1,2,3,4,5,6,7,8],"labelExpr":"datum.value % 2 == 0 ? datum.label : ''","tickSize":{"condition":{"test":"datum.value % 2 == 0","value":11},"value":8},"labelPadding":14}}},
      "layer":[
       {"mark":{"type":"line","strokeWidth":1.3},
        "encoding":{"color":{"field":"Mortality","type":"nominal","scale":{"domain":["Base(0.208)","0.23","0.31","0.4","0.5"],"range":["#F8766D","#A3A500","#00BF7D","#00B0F6","#E76BF3"]},"legend":null}}},
       {"mark":{"type":"point","filled":false,"opacity":1,"size":34,"strokeWidth":1,"fillOpacity":0.6},
        "encoding":{"stroke":{"field":"Mortality","type":"nominal","scale":{"domain":["Base(0.208)","0.23","0.31","0.4","0.5"],"range":["#F8766D","#A3A500","#00BF7D","#00B0F6","#E76BF3"]},"legend":null},
                    "fill":{"field":"Mortality","type":"nominal","scale":{"domain":["Base(0.208)","0.23","0.31","0.4","0.5"],"range":["#F8766D","#A3A500","#00BF7D","#00B0F6","#E76BF3"]},"legend":null},
                    "shape":{"field":"Mortality","type":"nominal","scale":{"domain":["Base(0.208)","0.23","0.31","0.4","0.5"],"range":["circle","triangle-up","square","M-1,0H1M0,-1V1","M-1,-1H1V1H-1ZM-1,-1L1,1M-1,1L1,-1"]},"legend":null}}}
      ]}
   ],"spacing":3.5,"bounds":"flush","resolve":{"scale":{"color":"independent","fill":"independent","shape":"independent","stroke":"independent"},"legend":{"color":"independent","fill":"independent","shape":"independent","stroke":"independent"}}},
   {"vconcat":[
     {"width":434,"height":54,"data":{"values":[{"label":"Recruitment"}]},"mark":{"type":"text","font":"Liberation Serif","fontSize":28,"color":"#1a1a1a"},
      "encoding":{"text":{"field":"label","type":"nominal"},"x":{"datum":0.5,"type":"quantitative","scale":{"domain":[0,1]},"axis":null},"y":{"datum":0.5,"type":"quantitative","scale":{"domain":[0,1]},"axis":null}}},
     {"width":434,"height":213,"data":{"name":"Recruitment"},
      "encoding":{
       "x":{"field":"Year","type":"quantitative","scale":{"domain":[1984.15,2024.85],"nice":false,"zero":false},"axis":{"title":null,"labelFont":"serif","labelFontSize":27,"labelColor":"#000000","format":"d","values":[1985,1986,1987,1988,1989,1990,1991,1992,1993,1994,1995,1996,1997,1998,1999,2000,2001,2002,2003,2004,2005,2006,2007,2008,2009,2010,2011,2012,2013,2014,2015,2016,2017,2018,2019,2020,2021,2022,2023,2024],"labelExpr":"datum.value % 10 == 0 ? datum.label : ''","tickSize":{"condition":{"test":"datum.value % 10 == 0","value":10},"value":7},"labelPadding":9}},
       "y":{"field":"Value","type":"quantitative","scale":{"domain":[-0.25,8.05],"nice":false,"zero":false},"axis":{"title":null,"labelFont":"serif","labelFontSize":27,"labelColor":"#000000","values":[0,1,2,3,4,5,6,7,8],"labelExpr":"datum.value % 2 == 0 ? datum.label : ''","tickSize":{"condition":{"test":"datum.value % 2 == 0","value":11},"value":8},"labelPadding":14}}},
      "layer":[
       {"mark":{"type":"line","strokeWidth":1.3},
        "encoding":{"color":{"field":"Mortality","type":"nominal","scale":{"domain":["Base(0.208)","0.23","0.31","0.4","0.5"],"range":["#F8766D","#A3A500","#00BF7D","#00B0F6","#E76BF3"]},"legend":null}}},
       {"mark":{"type":"point","filled":false,"opacity":1,"size":34,"strokeWidth":1,"fillOpacity":0.6},
        "encoding":{"stroke":{"field":"Mortality","type":"nominal","scale":{"domain":["Base(0.208)","0.23","0.31","0.4","0.5"],"range":["#F8766D","#A3A500","#00BF7D","#00B0F6","#E76BF3"]},"legend":null},
                    "fill":{"field":"Mortality","type":"nominal","scale":{"domain":["Base(0.208)","0.23","0.31","0.4","0.5"],"range":["#F8766D","#A3A500","#00BF7D","#00B0F6","#E76BF3"]},"legend":null},
                    "shape":{"field":"Mortality","type":"nominal","scale":{"domain":["Base(0.208)","0.23","0.31","0.4","0.5"],"range":["circle","triangle-up","square","M-1,0H1M0,-1V1","M-1,-1H1V1H-1ZM-1,-1L1,1M-1,1L1,-1"]},"legend":null}}}
      ]}
   ],"spacing":3.5,"bounds":"flush","resolve":{"scale":{"color":"independent","fill":"independent","shape":"independent","stroke":"independent"},"legend":{"color":"independent","fill":"independent","shape":"independent","stroke":"independent"}}}
 ],"spacing":16,"resolve":{"scale":{"color":"independent","fill":"independent","shape":"independent","stroke":"independent"},"legend":{"color":"independent","fill":"independent","shape":"independent","stroke":"independent"}}},
 {"vconcat":[
   {"width":426,"height":54,"data":{"values":[{"label":"biomass"}]},"mark":{"type":"text","font":"Liberation Serif","fontSize":28,"color":"#1a1a1a"},
    "encoding":{"text":{"field":"label","type":"nominal"},"x":{"datum":0.5,"type":"quantitative","scale":{"domain":[0,1]},"axis":null},"y":{"datum":0.5,"type":"quantitative","scale":{"domain":[0,1]},"axis":null}}},
   {"width":426,"height":213,"data":{"name":"biomass"},
    "encoding":{
     "x":{"field":"Year","type":"quantitative","scale":{"domain":[1984.15,2024.1],"nice":false,"zero":false},"axis":{"title":null,"labelFont":"serif","labelFontSize":27,"labelColor":"#000000","format":"d","values":[1985,1986,1987,1988,1989,1990,1991,1992,1993,1994,1995,1996,1997,1998,1999,2000,2001,2002,2003,2004,2005,2006,2007,2008,2009,2010,2011,2012,2013,2014,2015,2016,2017,2018,2019,2020,2021,2022,2023],"labelExpr":"datum.value % 10 == 0 ? datum.label : ''","tickSize":{"condition":{"test":"datum.value % 10 == 0","value":10},"value":7},"labelPadding":9}},
     "y":{"field":"Value","type":"quantitative","scale":{"domain":[-0.4,11.6],"nice":false,"zero":false},"axis":{"title":null,"labelFont":"serif","labelFontSize":27,"labelColor":"#000000","values":[0,1.5,3,4.5,6,7.5,9,10.5],"labelExpr":"datum.value % 3 == 0 ? datum.label : ''","tickSize":{"condition":{"test":"datum.value % 3 == 0","value":11},"value":8},"labelPadding":14}}},
    "layer":[
     {"mark":{"type":"line","strokeWidth":1.3},
      "encoding":{"color":{"field":"Mortality","type":"nominal","scale":{"domain":["Base(0.208)","0.23","0.31","0.4","0.5"],"range":["#F8766D","#A3A500","#00BF7D","#00B0F6","#E76BF3"]},"legend":null}}},
     {"mark":{"type":"point","filled":false,"opacity":1,"size":34,"strokeWidth":1,"fillOpacity":0.6},
      "encoding":{"stroke":{"field":"Mortality","type":"nominal","scale":{"domain":["Base(0.208)","0.23","0.31","0.4","0.5"],"range":["#F8766D","#A3A500","#00BF7D","#00B0F6","#E76BF3"]},"legend":null},
                  "fill":{"field":"Mortality","type":"nominal","scale":{"domain":["Base(0.208)","0.23","0.31","0.4","0.5"],"range":["#F8766D","#A3A500","#00BF7D","#00B0F6","#E76BF3"]},"legend":null},
                  "shape":{"field":"Mortality","type":"nominal","scale":{"domain":["Base(0.208)","0.23","0.31","0.4","0.5"],"range":["circle","triangle-up","square","M-1,0H1M0,-1V1","M-1,-1H1V1H-1ZM-1,-1L1,1M-1,1L1,-1"]},"legend":null}}}
    ]},
   {"width":426,"height":1,"view":{"stroke":null},"data":{"name":"Recruitment"},"transform":[{"filter":"datum.Year < 0"}],
    "mark":{"type":"line","strokeWidth":1.5},
    "encoding":{"color":{"field":"Mortality","type":"nominal","scale":{"domain":["Base(0.208)","0.23","0.31","0.4","0.5"],"range":["#F8766D","#A3A500","#00BF7D","#00B0F6","#E76BF3"]},
       "legend":{"title":"Mortality","orient":"none","legendX":135,"legendY":86,"direction":"vertical","titleFont":"Liberation Serif","titleFontSize":36,"titleFontWeight":"normal","titleColor":"#000000","titlePadding":16,"labelFont":"serif","labelFontSize":27,"labelColor":"#000000","labelOffset":17,"symbolOffset":-5,"rowPadding":0,"symbolType":"M-1,0H1M-0.25,0A0.25,0.25,0,1,0,0.25,0A0.25,0.25,0,1,0,-0.25,0","symbolSize":256,"symbolStrokeWidth":1.5,"symbolOpacity":1}}}}
 ],"spacing":3.5,"bounds":"flush","resolve":{"scale":{"color":"independent","fill":"independent","shape":"independent","stroke":"independent"},"legend":{"color":"independent","fill":"independent","shape":"independent","stroke":"independent"}}}
],
"config":{
 "view":{"stroke":"#333333","strokeWidth":3.5},
 "axis":{"tickColor":"#333333","tickWidth":2,"domain":false,"grid":false,"labelOverlap":false,"labelFlush":false}
}
}
